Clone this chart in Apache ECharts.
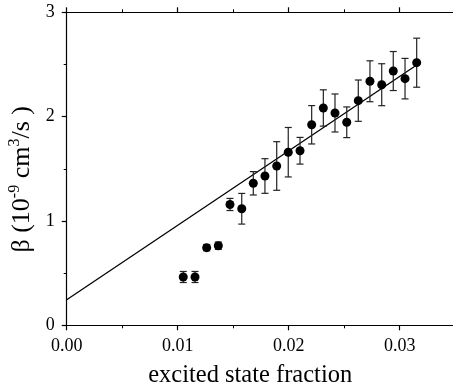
<!DOCTYPE html>
<html>
<head>
<meta charset="utf-8">
<script src="https://cdn.jsdelivr.net/npm/echarts@6/dist/echarts.min.js"></script>
<style>
  html, body { margin: 0; padding: 0; background: #fff; }
  #chart { width: 453px; height: 388px; }
</style>
</head>
<body>
<div id="chart"></div>
<script>
// excited state fraction vs beta
const fraction = [0.0105, 0.01156, 0.01261, 0.01366, 0.01471, 0.01577, 0.01681, 0.01786, 0.01892, 0.01996,
  0.02102, 0.02207, 0.02312, 0.02417, 0.02523, 0.02627, 0.02732, 0.02838, 0.02942, 0.03048, 0.03153];
const beta = [0.463, 0.463, 0.744, 0.763, 1.158, 1.117, 1.361, 1.431, 1.527, 1.659,
  1.673, 1.922, 2.083, 2.035, 1.946, 2.153, 2.339, 2.306, 2.437, 2.364, 2.517];
const betaErr = [0.053, 0.053, 0.03, 0.035, 0.058, 0.147, 0.112, 0.166, 0.233, 0.237,
  0.128, 0.184, 0.174, 0.182, 0.147, 0.198, 0.196, 0.201, 0.187, 0.194, 0.235];

// linear fit line end points
const fitX = [0, 0.0316];
const fitY = [0.245, 2.5];

const xTicks = ['0.00', '0.01', '0.02', '0.03'];
const yTicks = ['0', '1', '2', '3'];

const font = 'Liberation Serif';
const ink = '#000';

const chart = echarts.init(document.getElementById('chart'));

const axisCommon = {
  axisLine: { show: true, lineStyle: { color: ink, width: 1.2 } },
  axisTick: { show: true, inside: false, length: 5, lineStyle: { color: ink, width: 1.2 } },
  minorTick: { show: true, splitNumber: 2, length: 3, lineStyle: { color: ink, width: 1 } },
  splitLine: { show: false }
};

const option = {
  animation: false,
  backgroundColor: '#fff',
  // plot runs on past the right edge of the picture (to 0.04)
  grid: {
    left: 66.7, top: 12.3, width: 444, height: 313,
    containLabel: false, outerBoundsMode: 'none'
  },
  xAxis: [
    Object.assign({
      type: 'value',
      min: 0,
      max: 0.04,
      interval: 0.01,
      position: 'bottom',
      name: 'excited state fraction',
      nameLocation: 'middle',
      nameGap: 38,
      nameTextStyle: { fontFamily: font, fontSize: 24.5, color: ink, padding: [0, 77, 0, 0] },
      axisLabel: {
        fontFamily: font, fontSize: 18, color: ink, margin: 12,
        showMaxLabel: false,
        formatter: v => {
          const s = v.toFixed(2);
          return xTicks.includes(s) ? s : '';
        }
      }
    }, axisCommon),
    Object.assign({
      type: 'value',
      min: 0,
      max: 0.04,
      interval: 0.01,
      position: 'top',
      axisLabel: { show: false }
    }, axisCommon)
  ],
  yAxis: Object.assign({
    type: 'value',
    min: 0,
    max: 3,
    interval: 1,
    name: '{n|β (10}{s|-9}{n| cm}{s|3}{n|/s )}',
    nameLocation: 'middle',
    nameRotate: 90,
    nameGap: 28,
    nameTextStyle: {
      padding: [0, 21, 0, 0],
      rich: {
        n: { fontFamily: font, fontSize: 26, color: ink, lineHeight: 28, verticalAlign: 'bottom' },
        s: { fontFamily: font, fontSize: 16, color: ink, lineHeight: 28, verticalAlign: 'top' }
      }
    },
    axisLabel: {
      fontFamily: font, fontSize: 18, color: ink, margin: 12,
      formatter: v => yTicks.includes(String(v)) ? String(v) : ''
    }
  }, axisCommon),
  series: [
    {
      name: 'fit',
      type: 'line',
      xAxisIndex: 0,
      data: fitX.map((x, i) => [x, fitY[i]]),
      symbol: 'none',
      lineStyle: { color: ink, width: 1.3 },
      z: 2
    },
    {
      name: 'error',
      type: 'custom',
      xAxisIndex: 0,
      data: fraction.map((x, i) => [x, beta[i] - betaErr[i], beta[i] + betaErr[i]]),
      renderItem: (params, api) => {
        const lo = api.coord([api.value(0), api.value(1)]);
        const hi = api.coord([api.value(0), api.value(2)]);
        const cap = 3.5;
        const style = { stroke: '#222', lineWidth: 1.2 };
        return {
          type: 'group',
          children: [
            { type: 'line', shape: { x1: lo[0], y1: lo[1], x2: hi[0], y2: hi[1] }, style },
            { type: 'line', shape: { x1: lo[0] - cap, y1: lo[1], x2: lo[0] + cap, y2: lo[1] }, style },
            { type: 'line', shape: { x1: hi[0] - cap, y1: hi[1], x2: hi[0] + cap, y2: hi[1] }, style }
          ]
        };
      },
      z: 3
    },
    {
      name: 'beta',
      type: 'scatter',
      xAxisIndex: 0,
      data: fraction.map((x, i) => [x, beta[i]]),
      symbol: 'circle',
      symbolSize: 9,
      itemStyle: { color: ink, opacity: 1 },
      z: 4
    }
  ]
};

chart.setOption(option);
</script>
</body>
</html>
